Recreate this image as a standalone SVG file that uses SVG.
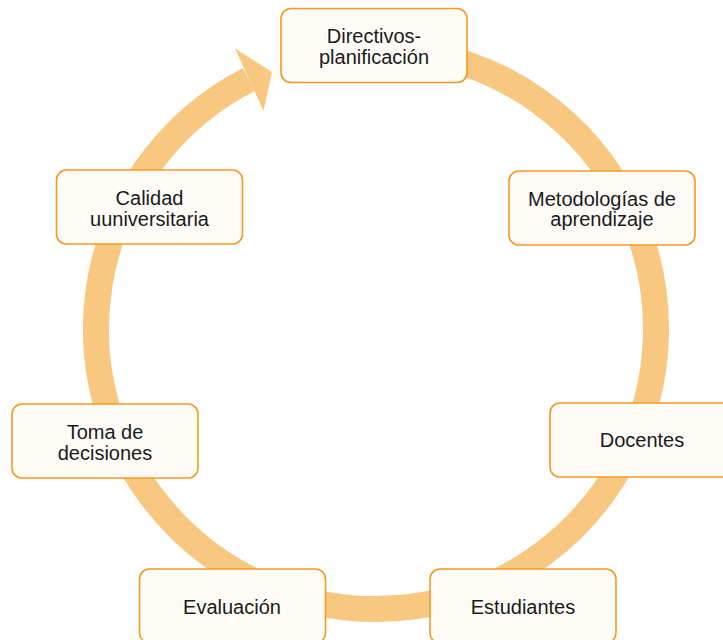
<svg xmlns="http://www.w3.org/2000/svg" width="723" height="640" viewBox="0 0 723 640">
<style>
.box{fill:#FFFCF8;stroke:#F49A22;stroke-width:1.6}
.lbl{font-family:"Liberation Sans",Arial,sans-serif;font-size:20px;fill:#1a1a1a;text-anchor:middle}
.ring{fill:none;stroke:#F8C880;stroke-width:26}
.head{fill:#F8C880}
</style>
<rect width="723" height="640" fill="#ffffff"/>
<g id="connectors">
<path class="ring" d="M 424.62 53.25 A 280 280 0 1 1 248.88 79.52"/>
<polygon class="head" points="235,48.5 272,72 263.5,111"/>
</g>
<g id="node-directivos">
<rect class="box" x="281" y="8.5" width="186" height="74" rx="10"/>
<text class="lbl" x="374" y="43">Directivos-</text>
<text class="lbl" x="374" y="64">planificación</text>
</g>
<g id="node-metodologias">
<rect class="box" x="509" y="171" width="186" height="74" rx="10"/>
<text class="lbl" x="602" y="206">Metodologías de</text>
<text class="lbl" x="602" y="226">aprendizaje</text>
</g>
<g id="node-docentes">
<rect class="box" x="550" y="403" width="186" height="74" rx="10"/>
<text class="lbl" x="642" y="447">Docentes</text>
</g>
<g id="node-estudiantes">
<rect class="box" x="430" y="569" width="186" height="74" rx="10"/>
<text class="lbl" x="523" y="614">Estudiantes</text>
</g>
<g id="node-evaluacion">
<rect class="box" x="139.5" y="569" width="186" height="74" rx="10"/>
<text class="lbl" x="232" y="614">Evaluación</text>
</g>
<g id="node-toma">
<rect class="box" x="12" y="404" width="186" height="74" rx="10"/>
<text class="lbl" x="105" y="439">Toma de</text>
<text class="lbl" x="105" y="460">decisiones</text>
</g>
<g id="node-calidad">
<rect class="box" x="56.5" y="170" width="186" height="74" rx="10"/>
<text class="lbl" x="149.5" y="205">Calidad</text>
<text class="lbl" x="149.5" y="226">uuniversitaria</text>
</g>
</svg>
